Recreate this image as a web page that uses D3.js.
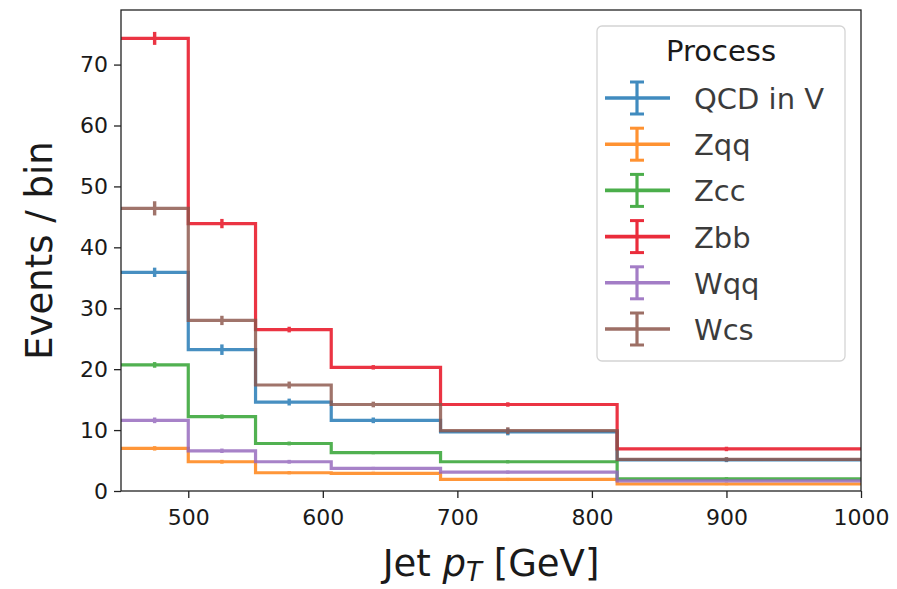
<!DOCTYPE html>
<html>
<head>
<meta charset="utf-8">
<script src="https://cdn.jsdelivr.net/npm/d3@7"></script>
<style>
  body { margin: 0; background: #fff; }
  text { font-family: 'DejaVu Sans', sans-serif; fill: #1a1a1a; }
</style>
</head>
<body>
<div id="chart"></div>
<script>
// bin centres (GeV) and per-process event counts
const binCenters = [475, 525, 575, 637.5, 737.5, 900];
const processes = ['QCD in V', 'Zqq', 'Zcc', 'Zbb', 'Wqq', 'Wcs'];
const colors = ['#1f77b4', '#ff7f0e', '#2ca02c', '#e7081a', '#9467bd', '#8c564b'];

const qcdValues = [35.9, 23.2, 14.6, 11.6, 9.7, 5.1];
const zqqValues = [7.0, 4.8, 3.0, 2.9, 1.9, 1.15];
const zccValues = [20.7, 12.2, 7.8, 6.3, 4.8, 2.0];
const zbbValues = [74.3, 43.9, 26.5, 20.3, 14.2, 6.9];
const wqqValues = [11.6, 6.6, 4.8, 3.7, 3.1, 1.65];
const wcsValues = [46.4, 28.0, 17.4, 14.2, 9.9, 5.2];

const qcdErrors = [0.6, 0.7, 0.4, 0.3, 0.4, 0.2];
const zqqErrors = [0.2, 0.15, 0.1, 0.1, 0.1, 0.05];
const zccErrors = [0.3, 0.2, 0.15, 0.1, 0.1, 0.1];
const zbbErrors = [0.9, 0.6, 0.3, 0.2, 0.2, 0.2];
const wqqErrors = [0.3, 0.2, 0.15, 0.1, 0.1, 0.05];
const wcsErrors = [1.0, 0.6, 0.4, 0.3, 0.4, 0.2];

const xTicks = [500, 600, 700, 800, 900, 1000];
const yTicks = [0, 10, 20, 30, 40, 50, 60, 70];
const xLimits = [450, 1000];

const seriesValues = [qcdValues, zqqValues, zccValues, zbbValues, wqqValues, wcsValues];
const seriesErrors = [qcdErrors, zqqErrors, zccErrors, zbbErrors, wqqErrors, wcsErrors];

const width = 897;
const height = 589;
const margin = { top: 10, right: 36, bottom: 98, left: 121 };
const chartWidth = width - margin.left - margin.right;
const chartHeight = height - margin.top - margin.bottom;

const series = processes.map((name, i) => ({
    name: name,
    color: colors[i],
    points: binCenters.map((x, j) => ({ x: x, y: seriesValues[i][j], err: seriesErrors[i][j] }))
}));

const yMax = d3.max(series, s => d3.max(s.points, p => p.y + p.err)) * 1.05;

const xScale = d3.scaleLinear().domain(xLimits).range([0, chartWidth]);
const yScale = d3.scaleLinear().domain([0, yMax]).range([chartHeight, 0]);

const svg = d3.select('#chart')
    .append('svg')
    .attr('width', width)
    .attr('height', height);

const chart = svg.append('g')
    .attr('transform', `translate(${margin.left},${margin.top})`);

svg.append('defs').append('clipPath')
    .attr('id', 'plot-area')
    .append('rect')
    .attr('width', chartWidth)
    .attr('height', chartHeight);

// steps change level half way between neighbouring centres, run out to the axis limits
const stepLine = d3.line()
    .x(d => xScale(d.x))
    .y(d => yScale(d.y))
    .curve(d3.curveStep);

const plot = chart.append('g').attr('clip-path', 'url(#plot-area)');

series.forEach(s => {
    const pts = [{ x: xLimits[0], y: s.points[0].y }]
        .concat(s.points)
        .concat([{ x: xLimits[1], y: s.points[s.points.length - 1].y }]);

    const g = plot.append('g').attr('opacity', 0.82);

    g.append('path')
        .datum(pts)
        .attr('d', stepLine)
        .attr('fill', 'none')
        .attr('stroke', s.color)
        .attr('stroke-width', 3.2)
        .attr('stroke-linejoin', 'miter');

    g.selectAll('.err')
        .data(s.points)
        .enter()
        .append('line')
        .classed('err', true)
        .attr('x1', d => xScale(d.x))
        .attr('x2', d => xScale(d.x))
        .attr('y1', d => yScale(d.y - d.err) + 1)
        .attr('y2', d => yScale(d.y + d.err) - 1)
        .attr('stroke', s.color)
        .attr('stroke-width', 3.4);
});

const xAxis = d3.axisBottom(xScale)
    .tickValues(xTicks)
    .tickSize(7)
    .tickSizeOuter(0)
    .tickPadding(11)
    .tickFormat(d3.format('d'));

const yAxis = d3.axisLeft(yScale)
    .tickValues(yTicks)
    .tickSize(7)
    .tickSizeOuter(0)
    .tickPadding(6);

const xg = chart.append('g')
    .attr('transform', `translate(0,${chartHeight})`)
    .call(xAxis);

const yg = chart.append('g').call(yAxis);

[xg, yg].forEach(g => {
    g.select('.domain').remove();
    g.selectAll('.tick line').attr('stroke', '#222').attr('stroke-width', 1.3);
    g.selectAll('.tick text')
        .style('font-size', '22px')
        .style('font-family', 'DejaVu Sans')
        .attr('fill', '#1a1a1a');
});

chart.append('rect')
    .attr('width', chartWidth)
    .attr('height', chartHeight)
    .attr('fill', 'none')
    .attr('stroke', '#222')
    .attr('stroke-width', 1.3);

// axis titles
const xLabel = svg.append('text')
    .attr('x', margin.left + chartWidth / 2)
    .attr('y', 576)
    .style('font-size', '37px')
    .style('text-anchor', 'middle');
xLabel.append('tspan').text('Jet ');
xLabel.append('tspan').style('font-style', 'italic').text('p');
xLabel.append('tspan').style('font-style', 'italic').style('font-size', '26px').attr('dy', 5).text('T');
xLabel.append('tspan').attr('dy', -5).text(' [GeV]');

svg.append('text')
    .attr('transform', `translate(52,${margin.top + chartHeight / 2}) rotate(-90)`)
    .style('font-size', '37px')
    .style('text-anchor', 'middle')
    .text('Events / bin');

// legend
const legend = svg.append('g').attr('transform', 'translate(597,26)');

legend.append('rect')
    .attr('width', 248)
    .attr('height', 335)
    .attr('rx', 5)
    .attr('fill', '#fff')
    .attr('fill-opacity', 0.8)
    .attr('stroke', '#d4d4d4')
    .attr('stroke-width', 1.3);

legend.append('text')
    .attr('x', 124)
    .attr('y', 35)
    .style('font-size', '29px')
    .style('text-anchor', 'middle')
    .text('Process');

const items = legend.selectAll('.item')
    .data(series)
    .enter()
    .append('g')
    .classed('item', true)
    .attr('transform', (d, i) => `translate(0,${72 + i * 46.2})`)
    .attr('opacity', 0.85);

items.append('line')
    .attr('x1', 8).attr('x2', 73)
    .attr('stroke', d => d.color)
    .attr('stroke-width', 3.6);

items.append('line')
    .attr('x1', 40).attr('x2', 40)
    .attr('y1', -16).attr('y2', 16)
    .attr('stroke', d => d.color)
    .attr('stroke-width', 3.2);

items.selectAll('.cap')
    .data(d => [-16, 16].map(y => ({ y: y, color: d.color })))
    .enter()
    .append('line')
    .attr('x1', 33).attr('x2', 47)
    .attr('y1', c => c.y).attr('y2', c => c.y)
    .attr('stroke', c => c.color)
    .attr('stroke-width', 3);

items.append('text')
    .attr('x', 97)
    .attr('y', 11)
    .attr('opacity', 1 / 0.85)
    .style('font-size', '29px')
    .text(d => d.name);
</script>
</body>
</html>
